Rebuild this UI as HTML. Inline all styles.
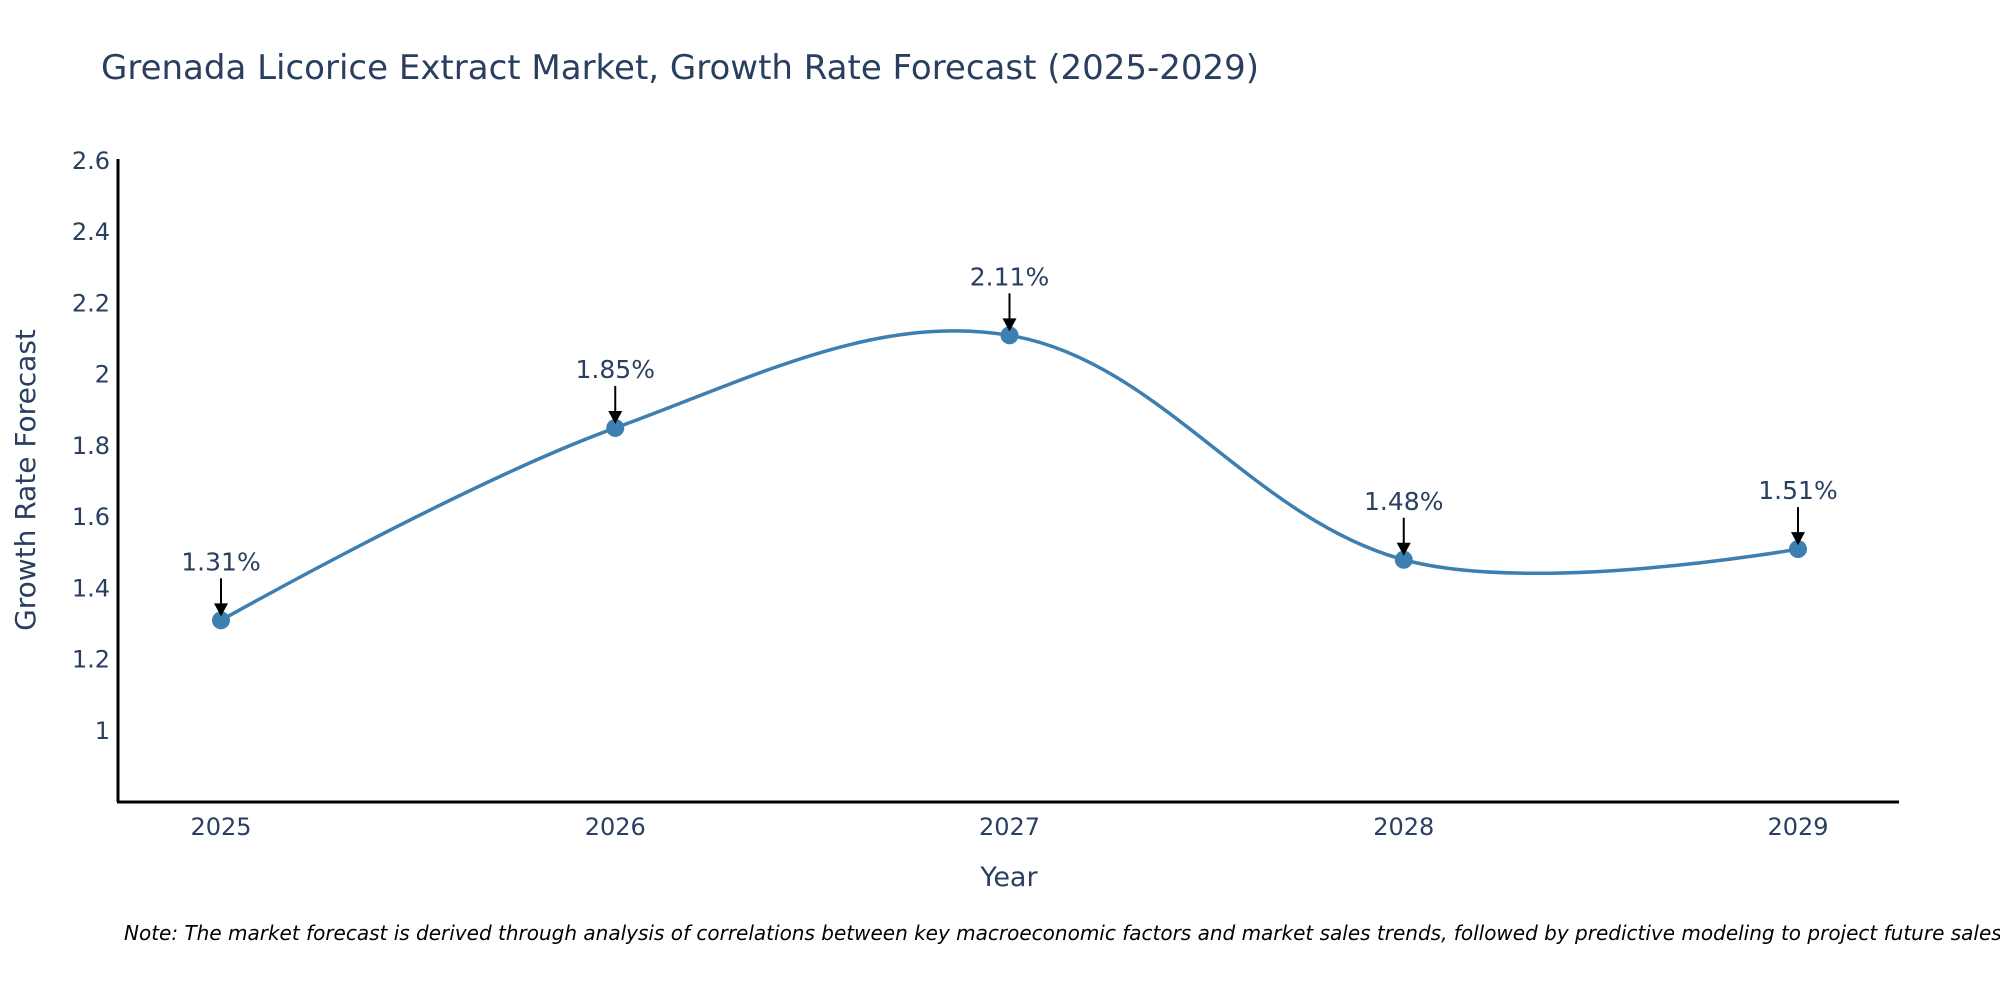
<!DOCTYPE html>
<html><head><meta charset="utf-8">
<style>
html,body{margin:0;padding:0;background:#fff;}
svg{display:block;font-family:"DejaVu Sans","Liberation Sans",sans-serif;}
</style></head>
<body>
<svg id="chart" width="2000" height="1000" viewBox="0 0 2000 1000">
<text x="101" y="79" font-size="34" fill="#2a3f5f">Grenada Licorice Extract Market, Growth Rate Forecast (2025-2029)</text>
<g id="yticks"></g>
<g id="xticks"></g>
<path id="line" fill="none" stroke="#3d7fb0" stroke-width="3.5"/>
<g id="points"></g>
<g id="annots"></g>
<line x1="118" y1="159" x2="118" y2="802" stroke="#000" stroke-width="3"/>
<line x1="117" y1="802" x2="1899" y2="802" stroke="#000" stroke-width="3"/>
<text transform="translate(35,480) rotate(-90)" text-anchor="middle" font-size="28" fill="#2a3f5f">Growth Rate Forecast</text>
<text x="1009" y="886" text-anchor="middle" font-size="27" fill="#2a3f5f">Year</text>
<text x="124" y="940" font-size="20" font-style="italic" fill="#000">Note: The market forecast is derived through analysis of correlations between key macroeconomic factors and market sales trends, followed by predictive modeling to project future sales.</text>
</svg>
<script>
const years = ["2025","2026","2027","2028","2029"];
const values = [1.31, 1.85, 2.11, 1.48, 1.51];
const valueLabels = ["1.31%","1.85%","2.11%","1.48%","1.51%"];
const yTickValues = [1, 1.2, 1.4, 1.6, 1.8, 2, 2.2, 2.4, 2.6];
const yTickLabels = ["1","1.2","1.4","1.6","1.8","2","2.2","2.4","2.6"];

const NS="http://www.w3.org/2000/svg";
function xs(i){return 221 + i*394.25;}
function ys(v){return 802 - (v-0.8)*356.25;}
function mk(tag,attrs,parent){const e=document.createElementNS(NS,tag);for(const k in attrs)e.setAttribute(k,attrs[k]);parent.appendChild(e);return e;}

const yt=document.getElementById('yticks');
yTickValues.forEach((v,i)=>{
  const t=mk('text',{x:110,y:ys(v)+8,'text-anchor':'end','font-size':'24',fill:'#2a3f5f'},yt);
  
  
  t.textContent=yTickLabels[i];
});
const xt=document.getElementById('xticks');
years.forEach((y,i)=>{
  const t=mk('text',{x:xs(i),y:835,'text-anchor':'middle','font-size':'24',fill:'#2a3f5f'},xt);
  
  
  t.textContent=y;
});

const pts=values.map((v,i)=>[xs(i),ys(v)]);
const cin=[],cout=[];
const f=0.36;
pts.forEach((p,i)=>{
  if(i===0||i===pts.length-1){cin[i]=p;cout[i]=p;return;}
  const p0=pts[i-1],p2=pts[i+1];
  const d1=Math.hypot(p[0]-p0[0],p[1]-p0[1]),d2=Math.hypot(p2[0]-p[0],p2[1]-p[1]);
  const dx=(p2[0]-p0[0])/(d1+d2),dy=(p2[1]-p0[1])/(d1+d2);
  cin[i]=[p[0]-dx*d1*f,p[1]-dy*d1*f];
  cout[i]=[p[0]+dx*d2*f,p[1]+dy*d2*f];
});
let d='M'+pts[0][0]+','+pts[0][1];
for(let i=0;i<pts.length-1;i++){
  d+=' C'+cout[i][0]+','+cout[i][1]+' '+cin[i+1][0]+','+cin[i+1][1]+' '+pts[i+1][0]+','+pts[i+1][1];
}
document.getElementById('line').setAttribute('d',d);

const pg=document.getElementById('points'),ag=document.getElementById('annots');
pts.forEach((p,i)=>{
  const c=mk('circle',{cx:p[0],cy:p[1],r:9,fill:'#3d7fb0'},pg);
  
  
  const l=mk('line',{x1:p[0],y1:p[1]-42,x2:p[0],y2:p[1]-14,stroke:'#000','stroke-width':'2'},ag);
  
  
  const h=mk('path',{d:`M${p[0]-7},${p[1]-17} L${p[0]+7},${p[1]-17} L${p[0]},${p[1]-4} Z`,fill:'#000'},ag);
  
  
  const t=mk('text',{x:p[0],y:p[1]-50,'text-anchor':'middle','font-size':'25',fill:'#2a3f5f'},ag);
  
  
  t.textContent=valueLabels[i];
});
</script>
</body></html>
